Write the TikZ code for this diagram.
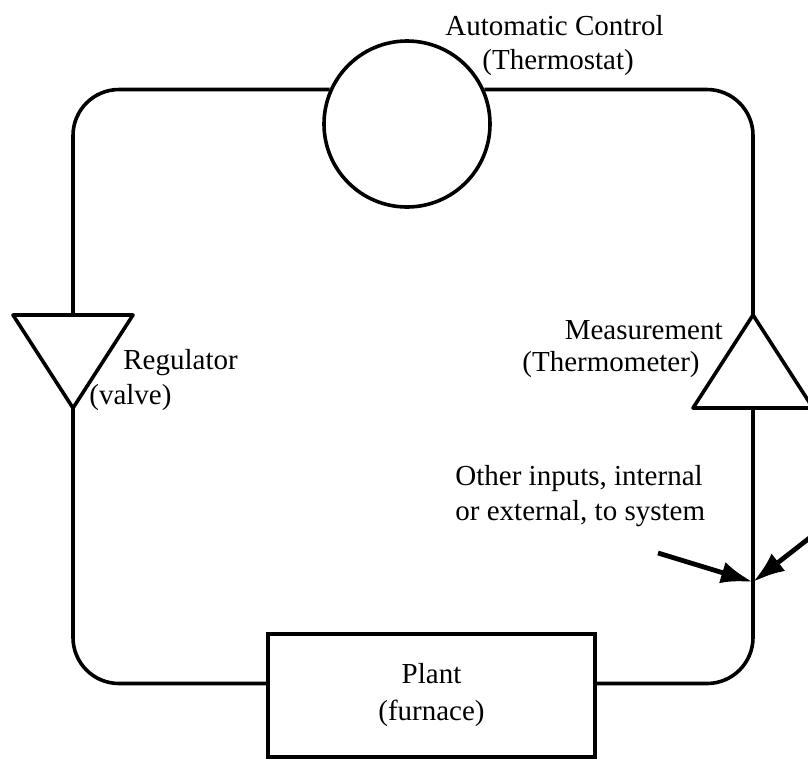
\documentclass[tikz,border=0pt]{standalone}
\usepackage{fontspec}
\setmainfont{Liberation Serif}
\usetikzlibrary{arrows.meta,calc}

\begin{document}
\begin{tikzpicture}[
    x=0.5pt, y=-0.5pt,
    font=\fontsize{14.5}{17.5}\selectfont,
    stroke/.style={
        line width=1.8pt,
        line join=round
    },
    wire/.style={
        stroke,
        rounded corners=23pt
    },
    unit/.style={
        draw,
        line width=1.8pt,
        inner sep=0pt
    },
    tag/.style={
        inner sep=0pt,
        align=left
    },
    input/.style={
        -{Latex[length=16pt,width=11pt]},
        line width=2.4pt
    }
]
\useasboundingbox (0,0) rectangle (808,761);
\clip (0,0) rectangle (808,761);

% ------------------------------------------------------------------
% Automatic control
% ------------------------------------------------------------------

\node[unit, circle, minimum size=83pt] (thermostat) at (407,124) {};

\node[tag, anchor=west] (controltag) at (445,26) {Automatic Control};
\node[tag, anchor=west] (thermostattag) at (482,63) {(Thermostat)};

% ------------------------------------------------------------------
% Regulator
% ------------------------------------------------------------------

\coordinate (valvein) at (73,315);
\coordinate (valveout) at (73,408);
\draw[stroke] (13,315) -- (133,315) -- (valveout) -- cycle;

\node[tag, anchor=west] (regulatortag) at (123,363) {Regulator};
\node[tag, anchor=west] (valvetag) at (89,398) {(valve)};

% ------------------------------------------------------------------
% Measurement
% ------------------------------------------------------------------

\coordinate (thermometerout) at (753,315);
\coordinate (thermometerin) at (753,408);
\draw[stroke] (thermometerout) -- (693,408) -- (813,408) -- cycle;

\node[tag, anchor=east] (measuretag) at (723,330) {Measurement};
\node[tag, anchor=east] (thermometertag) at (700,365) {(Thermometer)};

% ------------------------------------------------------------------
% Plant
% ------------------------------------------------------------------

\node[unit, rectangle, minimum width=163.5pt, minimum height=61.5pt,
    align=center, font=\fontsize{14.5}{18.5}\selectfont] (furnace) at (431.5,695.5)
    {Plant\\(furnace)};

\coordinate (plantin) at ($(furnace.west)+(0,-12)$);
\coordinate (plantout) at ($(furnace.east)+(0,-12)$);

% ------------------------------------------------------------------
% Control loop
% ------------------------------------------------------------------

\draw[wire] (thermostat.156) -| (valvein);
\draw[wire] (valveout) |- (plantin);
\draw[wire] (plantout) -| (thermometerin);
\draw[wire] (thermometerout) |- (thermostat.24);

% ------------------------------------------------------------------
% Other inputs
% ------------------------------------------------------------------

\coordinate (junction) at (753,582);
\coordinate (internal) at (658,553);
\coordinate (external) at (830,522);

\node[tag, anchor=west] (inputtag) at (455,496) {Other inputs, internal\\or external, to system};

\draw[input] (internal) -- (junction);
\draw[input] (external) -- (junction);

\end{tikzpicture}
\end{document}
